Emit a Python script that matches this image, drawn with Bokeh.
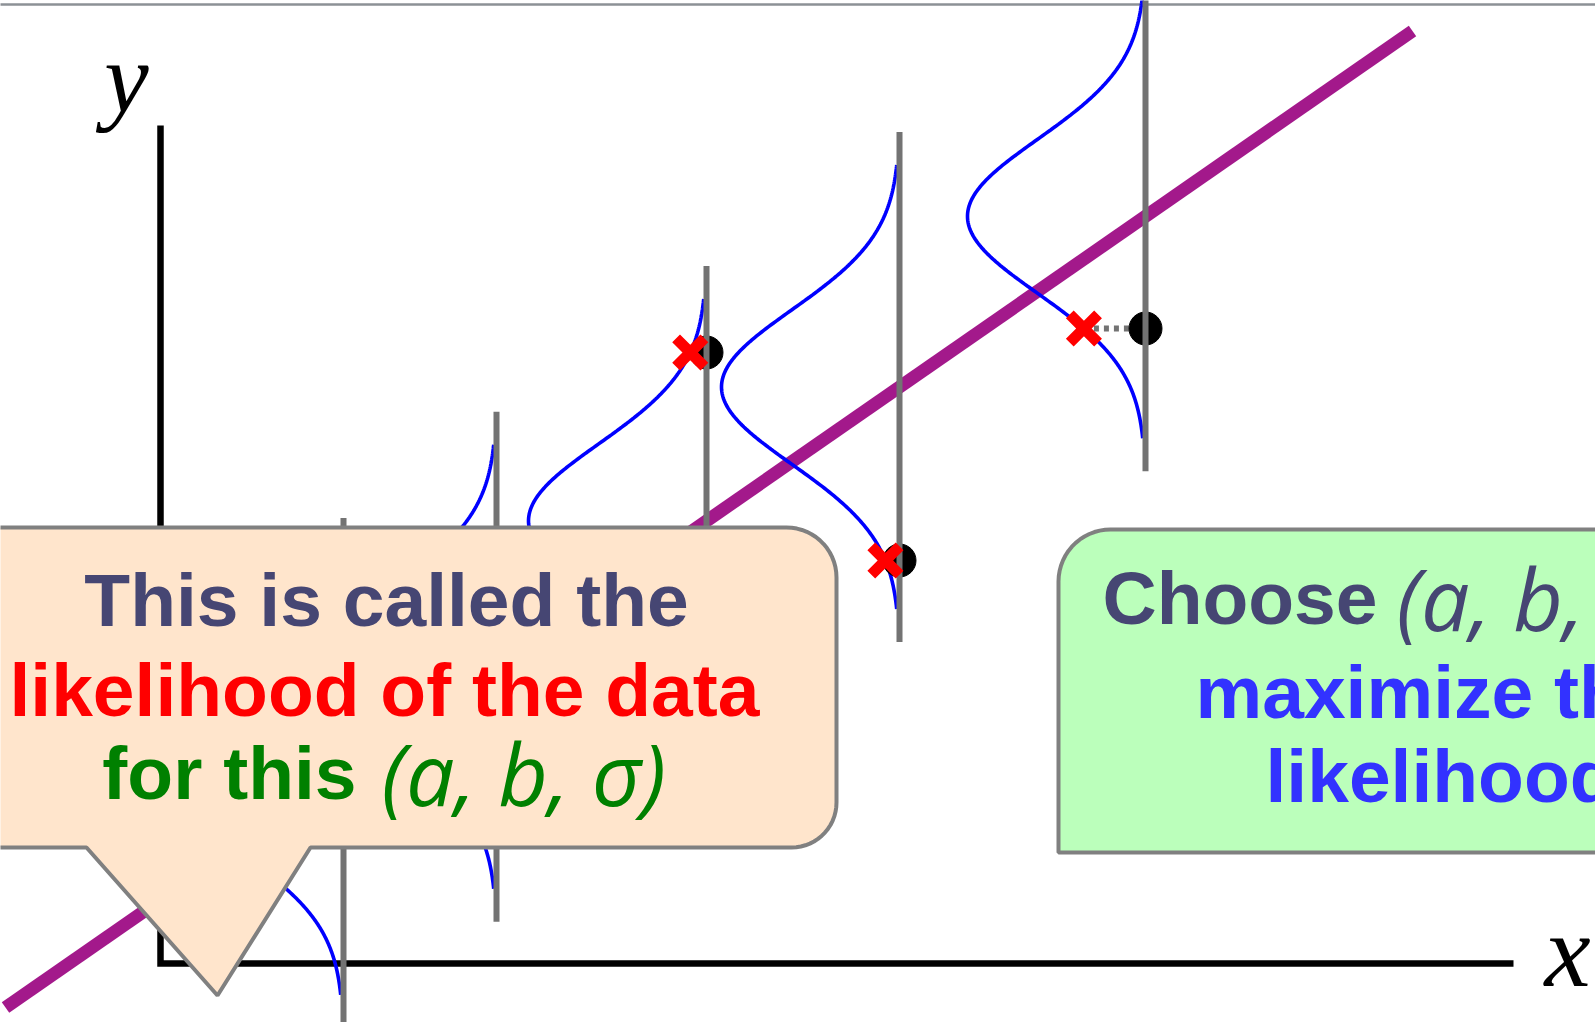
import numpy as np
from bokeh.plotting import figure
from bokeh.models import Range1d
from bokeh.core.properties import value
from bokeh.embed import file_html
from bokeh.resources import INLINE

# ---- model / data (axis units; origin at the axes corner) ----
intercept_a = 0.636
slope_b = 0.694
sigma = 0.77
density_peak = 1.78      # horizontal height of each density curve
density_span = 2.22      # vertical half-extent of each density curve
guide_half = 2.55        # half-length of each vertical guide line

fit_x = [-1.55, 12.52]                       # extent of the fitted line
guide_x = [1.83, 3.36, 5.46, 7.39, 9.85]     # x positions of the conditional densities
obs_x = [5.46, 7.39, 9.85]                   # visible observations
obs_y = [6.11, 4.03, 6.35]

axis_x_end = 13.53
axis_y_end = 8.38

# text baseline correction (renderer draws "alphabetic" text a little low)
TY = 0.26

# ---- figure: 1 axis unit = 100 px in both directions ----
p = figure(width=1595, height=1022,
           x_range=Range1d(-1.60, 14.35), y_range=Range1d(-0.59, 9.63),
           x_axis_type=None, y_axis_type=None,
           output_backend="svg", toolbar_location=None, min_border=0)
p.outline_line_color = None
p.background_fill_color = "white"
p.border_fill_color = "white"

# top rule
p.line([-1.7, 14.5], [9.59, 9.59], line_color="#8C9196", line_width=2.5)

# axes
p.line([0, 0, axis_x_end], [axis_y_end, 0, 0], line_color="black",
       line_width=6.5, line_join="miter")
p.text(x=[-0.34], y=[8.85], text=["y"], text_font=value("Liberation Serif"),
       text_font_style="italic", text_font_size="100px", text_align="center",
       text_baseline="alphabetic", text_color="black")
p.text(x=[14.07], y=[0.13], text=["x"], text_font=value("Liberation Serif"),
       text_font_style="italic", text_font_size="104px", text_align="center",
       text_baseline="alphabetic", text_color="black")

# fitted line
fx = np.array(fit_x)
p.line(fx, intercept_a + slope_b * fx, line_color="#A3198B", line_width=13)

# conditional densities
gx = np.array(guide_x)
mu = intercept_a + slope_b * gx
xs, ys = [], []
for xg, m in zip(gx, mu):
    yy = np.linspace(m - density_span, m + density_span, 240)
    xx = xg - density_peak * np.exp(-(yy - m) ** 2 / (2 * sigma ** 2))
    xs.append(xx)
    ys.append(yy)
p.multi_line(xs, ys, line_color="#0000FF", line_width=3.6)

# observations and their likelihood marks
ox = np.array(obs_x)
oy = np.array(obs_y)
om = intercept_a + slope_b * ox
cross_x = ox - density_peak * np.exp(-(oy - om) ** 2 / (2 * sigma ** 2))
p.segment(x0=cross_x, y0=oy, x1=ox, y1=oy, line_color="#737373",
          line_width=6, line_dash="5 5")
p.scatter(ox, oy, size=33, fill_color="black", line_color="black")

# vertical guides
p.segment(x0=gx, y0=mu - guide_half, x1=gx, y1=mu + guide_half,
          line_color="#737373", line_width=6)

p.scatter(cross_x, oy, marker="x", size=40, line_color="#FF0000", line_width=11)


# ---- callout boxes ----
def arc(cx, cy, r, a0, a1, n=16):
    t = np.radians(np.linspace(a0, a1, n))
    return list(cx + r * np.cos(t)), list(cy + r * np.sin(t))

# left callout
L, R, T, B = -1.8, 6.76, 4.36, 1.16
r1, r2 = 0.50, 0.45
bx, by = [L], [T]
ax_, ay_ = arc(R - r1, T - r1, r1, 90, 0)
bx += ax_; by += ay_
ax_, ay_ = arc(R - r2, B + r2, r2, 0, -90)
bx += ax_; by += ay_
bx += [1.50, 0.57, -0.74, L]
by += [B, -0.32, B, B]
p.patch(bx, by, fill_color="#FFE5CC", line_color="#808080", line_width=4)

# right callout
L2, R2, T2, B2 = 8.98, 14.6, 4.34, 1.11
r3 = 0.52
cx_, cy_ = [R2], [T2]
ax_, ay_ = arc(L2 + r3, T2 - r3, r3, 90, 180)
cx_ += ax_; cy_ += ay_
cx_ += [L2, R2]
cy_ += [B2, B2]
p.patch(cx_, cy_, fill_color="#BBFFBB", line_color="#808080", line_width=4)

bold = dict(text_font=value("Liberation Sans"), text_font_style="bold",
            text_font_size="75px", text_baseline="alphabetic")
math = dict(text_font=value("Open Sans"), text_font_style="italic",
            text_font_size="86px", text_baseline="alphabetic", text_align="left")

p.text(x=[2.26], y=[3.38 + TY], text=["This is called the"], text_color="#464673",
       text_align="center", **bold)
p.text(x=[2.24], y=[2.48 + TY], text=["likelihood of the data"], text_color="#FF0000",
       text_align="center", **bold)
p.text(x=[1.96], y=[1.65 + TY], text=["for this"], text_color="#008000",
       text_align="right", **bold)
p.text(x=[2.21], y=[1.65 + TY], text=["(a, b, σ)"], text_color="#008000", **math)

p.text(x=[9.42], y=[3.40 + TY], text=["Choose"], text_color="#464673",
       text_align="left", **bold)
p.text(x=[12.36], y=[3.40 + TY], text=["(a, b, σ)"], text_color="#464673", **math)
p.text(x=[10.35], y=[2.46 + TY], text=["maximize the"], text_color="#3232FF",
       text_align="left", **bold)
p.text(x=[11.05], y=[1.62 + TY], text=["likelihood"], text_color="#3232FF",
       text_align="left", **bold)

open("out.html", "w").write(file_html(p, INLINE))
